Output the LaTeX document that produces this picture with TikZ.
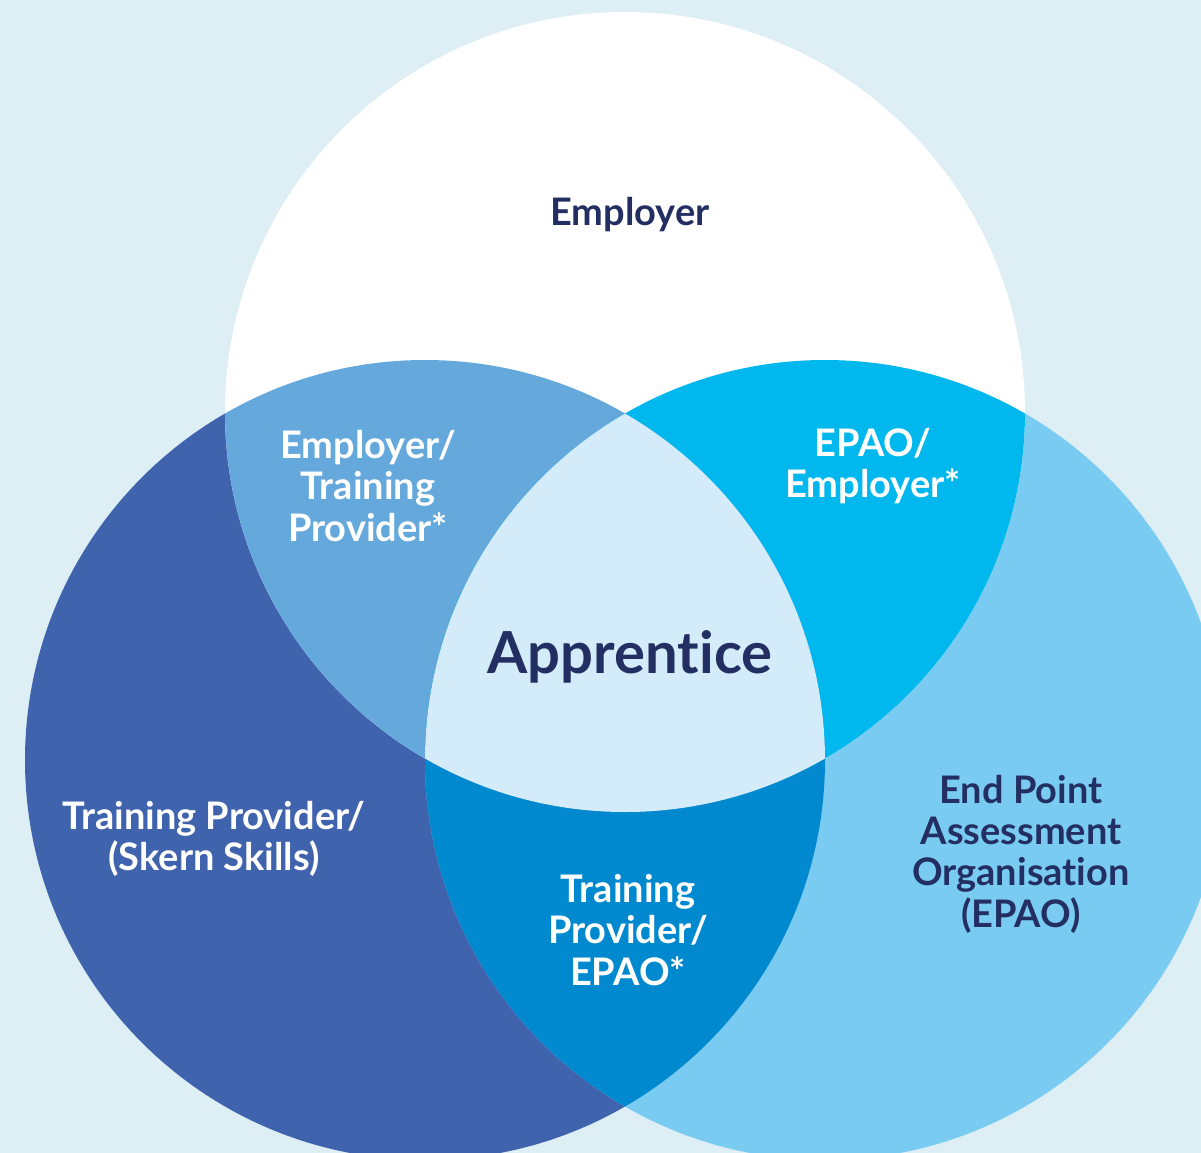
\documentclass[tikz,border=0pt]{standalone}
\usepackage{fontspec}
\setmainfont{Lato}[Ligatures=NoCommon]
\definecolor{bgc}{HTML}{DDEEF5}
\definecolor{leftc}{HTML}{3F63AD}
\definecolor{rightc}{HTML}{7ACBF2}
\definecolor{tlc}{HTML}{64A8DC}
\definecolor{trc}{HTML}{00B8EE}
\definecolor{botc}{HTML}{0089CF}
\definecolor{midc}{HTML}{D4EBF9}
\definecolor{navy}{HTML}{232F62}
\begin{document}
\begin{tikzpicture}[x=0.02cm,y=-0.02cm,
  lab/.style={font=\bfseries\fontsize{21.6}{23.5}\selectfont, align=center, inner sep=0pt},
  dark/.style={lab, text=navy},
  light/.style={lab, text=white}]
\fill[bgc] (0,0) rectangle (1201,1153);
\useasboundingbox (0,0) rectangle (1201,1153);
\begin{scope}
\clip (0,0) rectangle (1201,1153);
\fill[leftc] (425,760) circle[radius=400];
\fill[rightc] (825,760) circle[radius=400];
\fill[white] (625,412) circle[radius=400];
\begin{scope}
  \clip (625,412) circle[radius=400];
  \fill[tlc] (425,760) circle[radius=400];
  \fill[trc] (825,760) circle[radius=400];
\end{scope}
\begin{scope}
  \clip (425,760) circle[radius=400];
  \fill[botc] (825,760) circle[radius=400];
  \clip (825,760) circle[radius=400];
  \fill[midc] (625,412) circle[radius=400];
\end{scope}
\end{scope}
\node[dark] (employer) at (630,215) {Employer};
\node[light] (emptp) at (368,486) {Employer/\\Training\\Provider*};
\node[light] (epaoemp) at (873,466) {EPAO/\\Employer*};
\node[dark, font=\bfseries\fontsize{33}{35}\selectfont] (apprentice) at (630,657) {Apprentice};
\node[light] (tp) at (214,839) {Training Provider/\\(Skern Skills)};
\node[light] (tpepao) at (628,930) {Training\\Provider/\\EPAO*};
\node[dark] (epao) at (1021,854) {End Point\\Assessment\\Organisation\\(EPAO)};
\end{tikzpicture}
\end{document}
